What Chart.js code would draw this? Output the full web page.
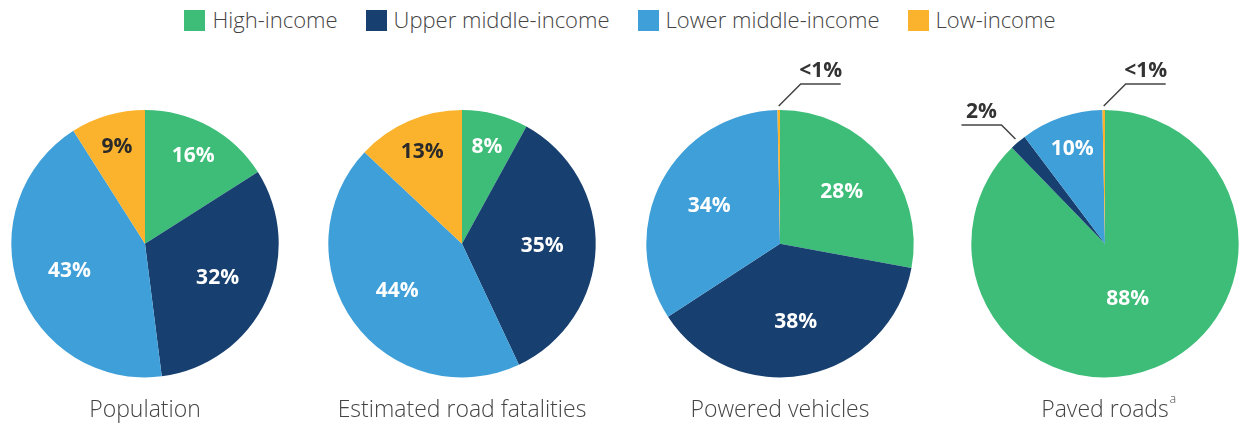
<!DOCTYPE html>
<html>
<head>
<meta charset="utf-8">
<script src="https://cdn.jsdelivr.net/npm/chart.js@4.4.1/dist/chart.umd.min.js"></script>
<style>
  body { margin: 0; background: #fff; width: 1240px; height: 429px; overflow: hidden; position: relative; font-family: "Open Sans", sans-serif; }
  #legend { position: absolute; top: 4px; left: 0; width: 1240px; text-align: center; font-size: 22px; font-weight: 300; color: #444; white-space: nowrap; }
  #legend span.item { display: inline-block; margin: 0 14px; }
  #legend span.box { display: inline-block; width: 21px; height: 21px; vertical-align: -3px; margin-right: 7px; }
  .wrap { position: absolute; top: 40px; width: 290px; height: 389px; }
</style>
</head>
<body>
<div id="legend"></div>
<div class="wrap" style="left:0px"><canvas id="c0"></canvas></div>
<div class="wrap" style="left:317px"><canvas id="c1"></canvas></div>
<div class="wrap" style="left:635px"><canvas id="c2"></canvas></div>
<div class="wrap" style="left:960px"><canvas id="c3"></canvas></div>
<script>
// income groups, clockwise from 12 o'clock
const groups = ['High-income', 'Upper middle-income', 'Lower middle-income', 'Low-income'];
const colors = ['#3dbd78', '#173f6f', '#3f9fd9', '#fbb32d'];

const titles = ['Population', 'Estimated road fatalities', 'Powered vehicles', 'Paved roads'];
const footnotes = ['', '', '', 'a'];

// shares in percent (the "<1%" slices are estimated as tiny values)
const population = [16, 32, 43, 9];
const fatalities = [8, 35, 44, 13];
const vehicles = [28, 38, 34, 0.3];
const pavedRoads = [88, 2, 10, 0.3];

// printed labels
const populationLabels = ['16%', '32%', '43%', '9%'];
const fatalitiesLabels = ['8%', '35%', '44%', '13%'];
const vehiclesLabels = ['28%', '38%', '34%', '<1%'];
const pavedRoadsLabels = ['88%', '2%', '10%', '<1%'];

const allData = [population, fatalities, vehicles, pavedRoads];
const allLabels = [populationLabels, fatalitiesLabels, vehiclesLabels, pavedRoadsLabels];

const titleFont = { family: '"Open Sans", sans-serif', size: 23, weight: 300 };

//Legend
const legend = document.getElementById('legend');
groups.forEach((g, i) => {
    legend.innerHTML += '<span class="item"><span class="box" style="background:' + colors[i] + '"></span>' + g + '</span>';
});

//Draws the percentage text on / next to each slice
const sliceLabels = {
    id: 'sliceLabels',
    afterDatasetsDraw(chart, args, opts) {
        const ctx = chart.ctx;
        const meta = chart.getDatasetMeta(0);
        const values = chart.data.datasets[0].data;
        ctx.save();
        ctx.font = 'bold 21px "Open Sans", sans-serif';
        ctx.textAlign = 'center';
        ctx.textBaseline = 'middle';
        meta.data.forEach((arc, i) => {
            const p = arc.getProps(['x', 'y', 'startAngle', 'endAngle', 'outerRadius']);
            const mid = (p.startAngle + p.endAngle) / 2;
            const text = opts.labels[i];
            if (values[i] < 3) {
                // outside label with leader line
                const r0 = p.outerRadius + 4;
                const sx = p.x + Math.cos(mid) * r0;
                const sy = p.y + Math.sin(mid) * r0;
                const fromTop = (mid + Math.PI / 2 + 2 * Math.PI) % (2 * Math.PI);
                const dir = (fromTop > 6.1 || fromTop < Math.PI) ? 1 : -1;
                const diag = dir > 0 ? 22 : 14;
                const ex = sx + dir * diag;
                const ey = sy - diag;
                const hx = ex + dir * 40;
                ctx.strokeStyle = '#444';
                ctx.lineWidth = 1.5;
                ctx.beginPath();
                ctx.moveTo(sx, sy);
                ctx.lineTo(ex, ey);
                ctx.lineTo(hx, ey);
                ctx.stroke();
                ctx.fillStyle = '#333';
                ctx.fillText(text, (ex + hx) / 2, ey - 13);
            } else {
                const f = values[i] < 20 ? 0.75 : (values[i] > 50 ? 0.45 : 0.6);
                const x = p.x + Math.cos(mid) * p.outerRadius * f;
                const y = p.y + Math.sin(mid) * p.outerRadius * f;
                ctx.fillStyle = i === 3 ? '#2a2a2a' : '#ffffff';
                ctx.fillText(text, x, y);
            }
        });

        // small superscript footnote mark after the title
        if (opts.footnote) {
            const t = chart.titleBlock;
            ctx.font = '300 ' + titleFont.size + 'px ' + titleFont.family;
            const w = ctx.measureText(chart.options.plugins.title.text).width;
            ctx.font = '300 12px ' + titleFont.family;
            ctx.fillStyle = '#444';
            ctx.textAlign = 'left';
            ctx.fillText(opts.footnote, (t.left + t.right) / 2 + w / 2 + 1, t.top + t.height / 2 - 4);
        }
        ctx.restore();
    }
};

allData.forEach((vals, k) => {
    new Chart(document.getElementById('c' + k), {
        type: 'pie',
        data: {
            labels: groups,
            datasets: [{
                data: vals,
                backgroundColor: colors,
                borderWidth: 0
            }]
        },
        options: {
            responsive: true,
            maintainAspectRatio: false,
            animation: false,
            layout: { padding: { top: 70, left: 10, right: 10, bottom: 0 } },
            plugins: {
                legend: { display: false },
                tooltip: { enabled: false },
                title: {
                    display: true,
                    position: 'bottom',
                    text: titles[k],
                    color: '#444',
                    font: titleFont,
                    padding: { top: 19, bottom: 5 }
                },
                sliceLabels: { labels: allLabels[k], footnote: footnotes[k] }
            }
        },
        plugins: [sliceLabels]
    });
});
</script>
</body>
</html>
